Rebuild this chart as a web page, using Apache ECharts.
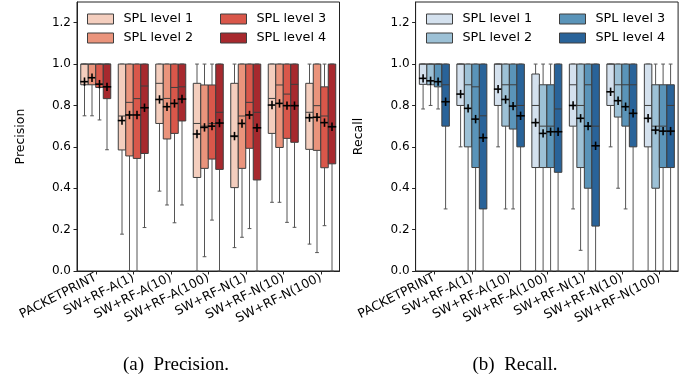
<!DOCTYPE html>
<html>
<head>
<meta charset="utf-8">
<script src="https://cdn.jsdelivr.net/npm/echarts@6/dist/echarts.min.js"></script>
<style>
  html, body { margin: 0; padding: 0; background: #fff; }
  #chart { width: 697px; height: 379px; }
</style>
</head>
<body>
<div id="chart"></div>
<script>
// ---------- DATA ----------
const categories = ['PACKETPRINT', 'SW+RF-A(1)', 'SW+RF-A(10)', 'SW+RF-A(100)', 'SW+RF-N(1)', 'SW+RF-N(10)', 'SW+RF-N(100)'];
const levels = ['SPL level 1', 'SPL level 2', 'SPL level 3', 'SPL level 4'];
const yTicks = [0, 0.2, 0.4, 0.6, 0.8, 1.0, 1.2];

// each row: [min, q1, median, q3, max, mean], one row per category
const precisionL1 = [
  [0.75, 0.90, 1.00, 1.00, 1.00, 0.915],
  [0.178, 0.585, 0.749, 1.00, 1.00, 0.727],
  [0.386, 0.713, 0.907, 1.00, 1.00, 0.829],
  [0.00, 0.452, 0.713, 0.907, 1.00, 0.662],
  [0.113, 0.403, 0.649, 0.907, 1.00, 0.652],
  [0.332, 0.665, 0.834, 1.00, 1.00, 0.802],
  [0.13, 0.588, 0.767, 0.907, 1.00, 0.741]
];
const precisionL2 = [
  [0.75, 0.90, 1.00, 1.00, 1.00, 0.934],
  [0.00, 0.556, 0.815, 1.00, 1.00, 0.754],
  [0.319, 0.638, 0.834, 1.00, 1.00, 0.794],
  [0.069, 0.496, 0.70, 0.899, 1.00, 0.694],
  [0.163, 0.496, 0.749, 1.00, 1.00, 0.713],
  [0.332, 0.597, 0.899, 1.00, 1.00, 0.81],
  [0.089, 0.583, 0.799, 1.00, 1.00, 0.743]
];
const precisionL3 = [
  [0.73, 0.887, 1.00, 1.00, 1.00, 0.903],
  [0.00, 0.544, 0.833, 1.00, 1.00, 0.754],
  [0.233, 0.665, 0.887, 1.00, 1.00, 0.81],
  [0.246, 0.541, 0.713, 0.899, 1.00, 0.70],
  [0.205, 0.593, 0.815, 1.00, 1.00, 0.754],
  [0.235, 0.641, 0.855, 1.00, 1.00, 0.799],
  [0.219, 0.499, 0.749, 0.89, 1.00, 0.717]
];
const precisionL4 = [
  [0.586, 0.833, 1.00, 1.00, 1.00, 0.89],
  [0.21, 0.568, 0.894, 1.00, 1.00, 0.789],
  [0.319, 0.725, 0.89, 1.00, 1.00, 0.831],
  [0.00, 0.491, 0.767, 1.00, 1.00, 0.715],
  [0.00, 0.44, 0.767, 1.00, 1.00, 0.692],
  [0.211, 0.622, 0.902, 1.00, 1.00, 0.799],
  [0.00, 0.518, 0.70, 1.00, 1.00, 0.697]
];

const recallL1 = [
  [0.783, 0.902, 1.00, 1.00, 1.00, 0.931],
  [0.60, 0.80, 1.00, 1.00, 1.00, 0.855],
  [0.60, 0.80, 1.00, 1.00, 1.00, 0.879],
  [0.00, 0.50, 0.80, 0.952, 1.00, 0.717],
  [0.30, 0.70, 0.90, 1.00, 1.00, 0.80],
  [0.60, 0.80, 1.00, 1.00, 1.00, 0.866],
  [0.00, 0.60, 0.80, 1.00, 1.00, 0.738]
];
const recallL2 = [
  [0.80, 0.90, 1.00, 1.00, 1.00, 0.919],
  [0.00, 0.60, 0.90, 1.00, 1.00, 0.786],
  [0.30, 0.70, 0.90, 1.00, 1.00, 0.829],
  [0.00, 0.50, 0.70, 0.90, 1.00, 0.665],
  [0.10, 0.50, 0.80, 1.00, 1.00, 0.738],
  [0.40, 0.744, 0.90, 1.00, 1.00, 0.823],
  [0.00, 0.40, 0.70, 0.90, 1.00, 0.681]
];
const recallL3 = [
  [0.783, 0.89, 1.00, 1.00, 1.00, 0.915],
  [0.00, 0.50, 0.89, 1.00, 1.00, 0.734],
  [0.30, 0.686, 0.90, 1.00, 1.00, 0.797],
  [0.00, 0.50, 0.70, 0.90, 1.00, 0.673],
  [0.00, 0.40, 0.90, 1.00, 1.00, 0.70],
  [0.30, 0.70, 0.90, 1.00, 1.00, 0.794],
  [0.00, 0.50, 0.70, 0.90, 1.00, 0.676]
];
const recallL4 = [
  [0.30, 0.70, 0.90, 1.00, 1.00, 0.818],
  [0.00, 0.30, 0.75, 1.00, 1.00, 0.644],
  [0.00, 0.60, 0.80, 1.00, 1.00, 0.75],
  [0.00, 0.477, 0.783, 1.00, 1.00, 0.673],
  [0.00, 0.217, 0.70, 1.00, 1.00, 0.605],
  [0.00, 0.60, 0.90, 1.00, 1.00, 0.762],
  [0.00, 0.50, 0.80, 0.90, 1.00, 0.676]
];

// ---------- STYLE ----------
const redColors = ['#f4cebe', '#ea947c', '#d9574a', '#a7292e'];
const blueColors = ['#d4e1ee', '#9dc1d6', '#5a94b9', '#296399'];
const EDGE = '#3e3e3e';
const WHISK = '#555';
const AXIS = '#222';
const FONT = 'DejaVu Sans';

const precisionData = [precisionL1, precisionL2, precisionL3, precisionL4];
const recallData = [recallL1, recallL2, recallL3, recallL4];

function makeRender(k, color) {
  return function (params, api) {
    const ci = api.value(0);
    const band = api.size([1, 0])[0];
    const bw = band * 0.8 / 4;
    const cx = api.coord([ci, 0])[0] + (k - 1.5) * bw;
    const py = i => api.coord([ci, api.value(i)])[1];
    const yMin = py(1), yQ1 = py(2), yMed = py(3), yQ3 = py(4), yMax = py(5), yMean = py(6);
    const half = bw / 2, cap = bw / 4, m = 4.2;
    const ls = { stroke: WHISK, lineWidth: 1 };
    const es = { stroke: EDGE, lineWidth: 1 };
    return {
      type: 'group',
      children: [
        { type: 'line', shape: { x1: cx, y1: yQ1, x2: cx, y2: yMin }, style: ls },
        { type: 'line', shape: { x1: cx, y1: yQ3, x2: cx, y2: yMax }, style: ls },
        { type: 'line', shape: { x1: cx - cap, y1: yMin, x2: cx + cap, y2: yMin }, style: ls },
        { type: 'line', shape: { x1: cx - cap, y1: yMax, x2: cx + cap, y2: yMax }, style: ls },
        { type: 'rect', shape: { x: cx - half, y: yQ3, width: bw, height: yQ1 - yQ3 },
          style: { fill: color, stroke: EDGE, lineWidth: 1 } },
        { type: 'line', shape: { x1: cx - half, y1: yMed, x2: cx + half, y2: yMed }, style: es },
        { type: 'line', shape: { x1: cx - m, y1: yMean, x2: cx + m, y2: yMean }, style: { stroke: '#000', lineWidth: 1.6 } },
        { type: 'line', shape: { x1: cx, y1: yMean - m, x2: cx, y2: yMean + m }, style: { stroke: '#000', lineWidth: 1.6 } }
      ]
    };
  };
}

function buildSeries(dataSets, colors, axisIdx, prefix) {
  return dataSets.map((rows, k) => ({
    type: 'custom',
    name: prefix + levels[k],
    xAxisIndex: axisIdx,
    yAxisIndex: axisIdx,
    itemStyle: { color: colors[k] },
    renderItem: makeRender(k, colors[k]),
    encode: { x: 0, y: [1, 2, 3, 4, 5, 6] },
    data: rows.map((r, i) => [i, ...r])
  }));
}

function xAxis(gi) {
  return {
    type: 'category', gridIndex: gi, data: categories, boundaryGap: true,
    axisLine: { show: true, lineStyle: { color: AXIS, width: 1 } },
    axisTick: { show: true, alignWithLabel: true, length: 3.5, lineStyle: { color: AXIS } },
    axisLabel: { rotate: 27, fontFamily: FONT, fontSize: 12.5, color: '#000', margin: 6, interval: 0 },
    splitLine: { show: false }
  };
}
function yAxis(gi, name) {
  return {
    type: 'value', gridIndex: gi, min: 0, max: 1.3,
    name: name, nameLocation: 'middle', nameGap: 50,
    nameTextStyle: { fontFamily: FONT, fontSize: 12.5, color: '#000' },
    axisLine: { show: true, lineStyle: { color: AXIS, width: 1 } },
    axisTick: { show: true, length: 3.5, lineStyle: { color: AXIS }, customValues: yTicks },
    axisLabel: { fontFamily: FONT, fontSize: 12, color: '#000', margin: 6, customValues: yTicks,
      formatter: v => v.toFixed(1) },
    splitLine: { show: false }
  };
}
function legend(left, names) {
  return {
    orient: 'vertical', left: left, top: 12.5, icon: 'rect', padding: 0,
    itemWidth: 26, itemHeight: 10, itemGap: 6,
    itemStyle: { borderColor: EDGE, borderWidth: 1 },
    textStyle: { fontFamily: FONT, fontSize: 12.8, color: '#000', padding: [0, 0, 0, 5] },
    formatter: n => n.replace('Recall ', ''),
    data: names, selectedMode: false
  };
}

const chart = echarts.init(document.getElementById('chart'), null, { renderer: 'canvas' });
chart.setOption({
  animation: false,
  backgroundColor: '#fff',
  grid: [
    { left: 77, right: 357.5, top: 2, bottom: 108, show: true, borderColor: AXIS, borderWidth: 1, backgroundColor: 'transparent' },
    { left: 415.6, right: 18.9, top: 2, bottom: 108, show: true, borderColor: AXIS, borderWidth: 1, backgroundColor: 'transparent' }
  ],
  xAxis: [xAxis(0), xAxis(1)],
  yAxis: [yAxis(0, 'Precision'), yAxis(1, 'Recall')],
  legend: [
    legend(87, [levels[0], levels[1]]),
    legend(220, [levels[2], levels[3]]),
    legend(426, ['Recall ' + levels[0], 'Recall ' + levels[1]]),
    legend(559, ['Recall ' + levels[2], 'Recall ' + levels[3]])
  ],
  graphic: [
    { type: 'text', x: 176, y: 365, style: { text: '(a)  Precision.', font: '19px "Liberation Serif"', fill: '#000', align: 'center', verticalAlign: 'middle' } },
    { type: 'text', x: 515, y: 365, style: { text: '(b)  Recall.', font: '19px "Liberation Serif"', fill: '#000', align: 'center', verticalAlign: 'middle' } }
  ],
  series: [
    ...buildSeries(precisionData, redColors, 0, ''),
    ...buildSeries(recallData, blueColors, 1, 'Recall ')
  ]
});
</script>
</body>
</html>
